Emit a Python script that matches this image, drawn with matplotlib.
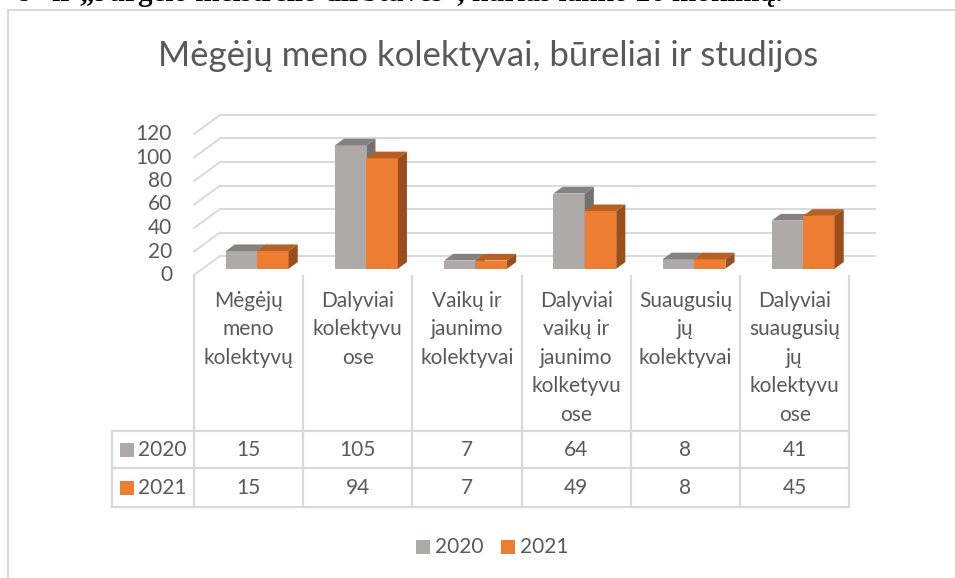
import numpy as np
import matplotlib.pyplot as plt
from matplotlib.patches import Polygon, Rectangle

plt.rcParams['font.family'] = ['Lato', 'DejaVu Sans']

# data
title = 'Mėgėjų meno kolektyvai, būreliai ir studijos'
cat_lines = [['Mėgėjų', 'meno', 'kolektyvų'],
             ['Dalyviai', 'kolektyvu', 'ose'],
             ['Vaikų ir', 'jaunimo', 'kolektyvai'],
             ['Dalyviai', 'vaikų ir', 'jaunimo', 'kolketyvu', 'ose'],
             ['Suaugusių', 'jų', 'kolektyvai'],
             ['Dalyviai', 'suaugusių', 'jų', 'kolektyvu', 'ose']]
years = ['2020', '2021']
v2020 = [15, 105, 7, 64, 8, 41]
v2021 = [15, 94, 7, 49, 8, 45]
yticks = [0, 20, 40, 60, 80, 100, 120]
top_line = 's“ ir „Jurgėlo meistrelio dirbtuvės“, kurias lanko 26 mokinių.'

front = ['#ADAAA9', '#ED7D31']
topc = ['#85817F', '#B85F23']
sidec = ['#767171', '#9A4E1D']
txt = '#595959'
grid = '#D9D9D9'

# layout (pixels of the 955x578 picture)
W, H = 955, 578
COL = 109.2   # px per category
X0 = 194      # left edge of front plane
Y0 = 275      # front zero line
S = 1.175     # px per unit
DX = 26 / COL # depth offset, category units
DY = 19 / S   # depth offset, value units
f0, f1 = 0.33, 0.68  # bar depth span
BW = 0.288

def px(x):
    return (x - X0) / COL - 0.5

def py(y):
    return (Y0 - y) / S

fig = plt.figure(figsize=(9.55, 5.78), dpi=100)
ax = fig.add_axes([0, 0, 1, 1])
ax.set_xlim(px(0), px(W))
ax.set_ylim(py(H), py(0))
ax.axis('off')

n = len(v2020)
lw = 1.4
# walls / gridlines
for v in yticks:
    ax.plot([-0.5, -0.5 + DX], [v, v + DY], color=grid, lw=lw, zorder=1)
    ax.plot([-0.5 + DX, n - 0.5 + DX], [v + DY, v + DY], color=grid, lw=lw, zorder=1)
    ax.text(px(172), v, str(v), ha='right', va='center', fontsize=15, color=txt)

# bars
d = f1 - f0
for j, vals in enumerate([v2020, v2021]):
    lefts = np.arange(n) + f0 * DX - BW + j * BW
    base = f0 * DY
    ax.bar(lefts, vals, width=BW, bottom=base, align='edge', color=front[j], lw=0, zorder=3)
    for l, v in zip(lefts, vals):
        t = base + v
        ax.add_patch(Polygon([(l, t), (l + BW, t), (l + BW + d * DX, t + d * DY), (l + d * DX, t + d * DY)],
                             closed=True, facecolor=topc[j], lw=0, zorder=3))
        r = l + BW
        ax.add_patch(Polygon([(r, base), (r, t), (r + d * DX, t + d * DY), (r + d * DX, base + d * DY)],
                             closed=True, facecolor=sidec[j], lw=0, zorder=3))

# data table
tl = 1.6
for i in range(n + 1):
    ax.plot([i - 0.5, i - 0.5], [py(276), py(507)], color=grid, lw=tl)
for y in [431, 468, 507]:
    ax.plot([px(112), n - 0.5], [py(y), py(y)], color=grid, lw=tl)
ax.plot([px(112), px(112)], [py(431), py(507)], color=grid, lw=tl)

for i, lines in enumerate(cat_lines):
    for k, s in enumerate(lines):
        ax.text(i, py(306.7 + k * 28.6), s, ha='center', va='baseline', fontsize=15, color=txt)

for j, (yr, vals, yc) in enumerate(zip(years, [v2020, v2021], [449.5, 487.5])):
    ax.add_patch(Rectangle((px(120), py(yc + 7)), 14 / COL, 14 / S, facecolor=front[j], lw=0))
    ax.text(px(138), py(yc), yr, ha='left', va='center', fontsize=15, color=txt)
    for i, v in enumerate(vals):
        ax.text(i, py(yc), str(v), ha='center', va='center', fontsize=15, color=txt)

# legend
for j, (yr, x) in enumerate(zip(years, [416, 501])):
    ax.add_patch(Rectangle((px(x), py(554)), 14 / COL, 14 / S, facecolor=front[j], lw=0))
    ax.text(px(x + 19), py(547), yr, ha='left', va='center', fontsize=15, color=txt)

# title
ax.text(px(488), py(56), title, ha='center', va='center', fontsize=25, color=txt)

# chart frame and clipped page text above it
ax.plot([px(7.5), px(7.5)], [py(10), py(H)], color=grid, lw=1.5)
ax.plot([px(7.5), px(W)], [py(10), py(10)], color=grid, lw=1.5)
ax.text(px(783), py(1), top_line, ha='right', va='baseline', fontsize=21,
        family='Liberation Serif', fontweight='bold', color='black')

fig.savefig('out.png', dpi=100)
